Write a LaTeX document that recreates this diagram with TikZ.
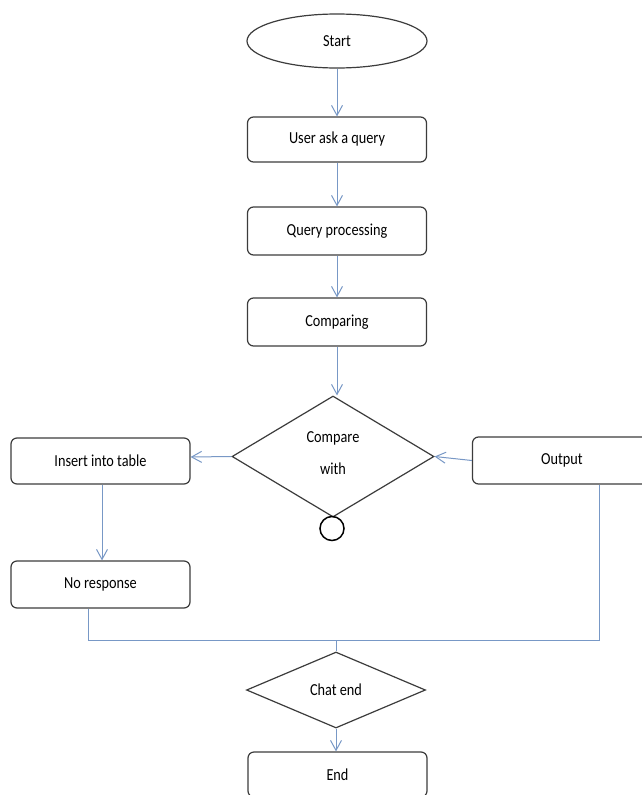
\documentclass[tikz,border=0pt]{standalone}
\usepackage{fontspec}
\usepackage{graphicx}
\setmainfont{Carlito}
\usetikzlibrary{shapes.geometric,arrows.meta}
\definecolor{conn}{RGB}{120,152,198}
\definecolor{edge}{RGB}{60,60,60}
\newcommand{\tx}[1]{\scalebox{1.02}[1.2]{#1}}
\tikzset{
  box/.style={draw=edge, line width=1.2pt, rounded corners=6pt, minimum width=179pt, minimum height=46pt, inner sep=0pt, font=\fontsize{14}{17}\selectfont},
  ell/.style={draw=edge, line width=1.2pt, ellipse, minimum width=180pt, minimum height=54pt, inner sep=0pt, font=\fontsize{14}{17}\selectfont},
  dec/.style={draw=edge, line width=1.2pt, diamond, inner sep=0pt, font=\fontsize{14}{17}\selectfont},
  lbl/.style={font=\fontsize{14}{17}\selectfont, align=center, inner sep=0pt},
  conn/.style={draw=conn, line width=1pt},
  arr/.style={conn, -{Straight Barb[length=10pt,width=11pt,line width=1pt]}}
}
\begin{document}
\begin{tikzpicture}[x=1pt,y=-1pt]
\fill[white] (0,0) rectangle (641,795);
\useasboundingbox (0,0) rectangle (641,795);
\node[ell] (start) at (337,41) {\tx{Start}};
\node[box, minimum height=45pt] (ask) at (337,139.5) {\tx{User ask a query}};
\node[box, minimum height=48pt] (proc) at (337,231) {\tx{Query processing}};
\node[box, minimum height=48pt] (cmp) at (337,322) {\tx{Comparing}};
\node[dec, minimum width=202pt, minimum height=121pt] (dia) at (333,456.5) {};
\node[lbl] (dtext) at (333,453) {\tx{Compare}\\[15pt]\tx{with}};
\node[draw=black, line width=1.5pt, circle, minimum size=24pt, inner sep=0pt] (circ) at (332,528.5) {};
\node[box] (ins) at (100.5,461) {\tx{Insert into table}};
\node[box, minimum height=47pt] (outp) at (562,460.5) {\tx{Output}};
\node[box, minimum height=47pt] (nor) at (100.5,584.5) {\tx{No response}};
\node[dec, minimum width=179pt, minimum height=76pt] (chat) at (336,690) {\tx{Chat end}};
\node[box, minimum height=45pt] (endn) at (337.5,774.5) {\tx{End}};
\coordinate (jl) at (88,640);
\coordinate (jr) at (599,640);
\coordinate (jm) at (336,640);
\draw[arr] (start) -- (ask);
\draw[arr] (ask) -- (proc);
\draw[arr] (proc) -- (cmp);
\draw[arr] (cmp.south) -- (dia.north -| cmp.south);
\draw[arr] (dia.west) -- ([yshift=4pt]ins.east);
\draw[arr] (outp.west) -- (dia.east);
\draw[arr] ([xshift=1.5pt]ins.south) -- ([xshift=1.5pt]nor.north);
\draw[conn] (nor.south -| jl) -- (jl) -- (jr) -- (outp.south -| jr);
\draw[conn] (jm) -- (chat.north);
\draw[arr] (chat.south) -- (endn.north -| chat.south);
\end{tikzpicture}
\end{document}
